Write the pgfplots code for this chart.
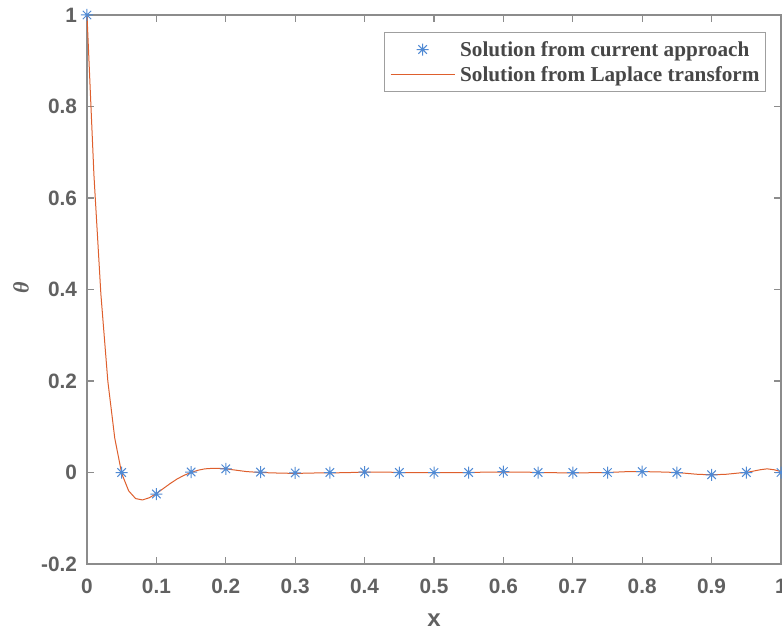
\documentclass[border=0pt]{standalone}
\usepackage{pgfplots}
\pgfplotsset{compat=1.18}
\usepackage{fontspec}
\setmainfont{Liberation Serif}
\setsansfont{Liberation Sans}

\definecolor{axgray}{gray}{0.55}
\definecolor{lblgray}{gray}{0.38}
\definecolor{mblue}{RGB}{80,138,212}
\definecolor{morange}{RGB}{222,95,45}

% eight-spoke asterisk
\pgfdeclareplotmark{star8}{%
  \pgfpathmoveto{\pgfqpoint{-\pgfplotmarksize}{0pt}}%
  \pgfpathlineto{\pgfqpoint{\pgfplotmarksize}{0pt}}%
  \pgfpathmoveto{\pgfqpoint{0pt}{-\pgfplotmarksize}}%
  \pgfpathlineto{\pgfqpoint{0pt}{\pgfplotmarksize}}%
  \pgfpathmoveto{\pgfqpoint{-0.707\pgfplotmarksize}{-0.707\pgfplotmarksize}}%
  \pgfpathlineto{\pgfqpoint{0.707\pgfplotmarksize}{0.707\pgfplotmarksize}}%
  \pgfpathmoveto{\pgfqpoint{-0.707\pgfplotmarksize}{0.707\pgfplotmarksize}}%
  \pgfpathlineto{\pgfqpoint{0.707\pgfplotmarksize}{-0.707\pgfplotmarksize}}%
  \pgfusepathqstroke}

\begin{document}
\begin{tikzpicture}
\begin{axis}[
  at={(0pt,0pt)}, anchor=south west,
  scale only axis,
  width=347pt, height=274.5pt,
  xmin=0, xmax=1, ymin=-0.2, ymax=1,
  axis line style={axgray, line width=0.8pt},
  every tick/.style={axgray, line width=0.6pt},
  tick align=inside,
  major tick length=3.3pt,
  xtick={0,0.1,0.2,0.3,0.4,0.5,0.6,0.7,0.8,0.9,1},
  xticklabels={0,0.1,0.2,0.3,0.4,0.5,0.6,0.7,0.8,0.9,1},
  ytick={-0.2,0,0.2,0.4,0.6,0.8,1},
  yticklabels={-0.2,0,0.2,0.4,0.6,0.8,1},
  tick label style={font=\sffamily\bfseries\fontsize{10.4}{12}\selectfont, text=lblgray},
  xticklabel style={yshift=-4pt},
  yticklabel style={xshift=-1.5pt},
  xlabel={x},
  ylabel={θ},
  xlabel style={font=\sffamily\bfseries\fontsize{12}{14}\selectfont, text=lblgray,
    at={(axis description cs:0.5,-0.102)}, anchor=center},
  ylabel style={font=\rmfamily\bfseries\itshape\fontsize{11}{12}\selectfont, text=lblgray,
    at={(axis description cs:-0.095,0.503)}, anchor=center},
  legend cell align=left,
  legend style={
    at={(axis description cs:0.9784,0.969)}, anchor=north east,
    draw=gray!75, line width=0.5pt,
    font=\rmfamily\bfseries\fontsize{10.6}{12.5}\selectfont, text=black!72,
    inner xsep=3pt, inner ysep=2.25pt, row sep=0pt,
    nodes={inner sep=0pt, text height=9.5pt, text depth=3pt},
    /tikz/every odd column/.style={column sep=2.5pt},
  },
  clip=false,
]
% numerical solution at the collocation points
\addplot[only marks, mark=star8, mark size=3pt, mblue, line width=0.5pt,
  legend image code/.code={\draw[mark repeat=2, mark phase=2]
    plot coordinates {(0pt,0pt) (16pt,0pt) (32pt,0pt)};}]
coordinates {
 (0,1) (0.05,0.000) (0.10,-0.047) (0.15,0.001) (0.20,0.008) (0.25,0.001)
 (0.30,-0.001) (0.35,0.000) (0.40,0.001) (0.45,0.000) (0.50,0.000)
 (0.55,0.000) (0.60,0.002) (0.65,0.000) (0.70,0.000) (0.75,0.000)
 (0.80,0.002) (0.85,0.000) (0.90,-0.005) (0.95,0.000) (1.00,0.000)
};
\addlegendentry{Solution from current approach}
% inverse Laplace transform solution
\addplot[morange, line width=0.5pt, no marks,
  legend image code/.code={\draw (0pt,0pt) -- (32pt,0pt);}]
coordinates {
 (0.00,1.000) (0.01,0.650) (0.02,0.390) (0.03,0.200) (0.04,0.075)
 (0.05,-0.002) (0.06,-0.040) (0.07,-0.057) (0.08,-0.060) (0.09,-0.055)
 (0.10,-0.046) (0.11,-0.035) (0.12,-0.024) (0.13,-0.014) (0.14,-0.006)
 (0.15,0.000) (0.16,0.005) (0.17,0.008) (0.18,0.009) (0.19,0.009)
 (0.20,0.008) (0.21,0.006) (0.22,0.004) (0.23,0.002) (0.24,0.001)
 (0.25,0.000) (0.27,-0.001) (0.30,-0.002) (0.33,-0.001) (0.35,-0.001)
 (0.38,0.000) (0.40,0.001) (0.43,0.001) (0.45,0.000) (0.50,0.000)
 (0.55,0.000) (0.58,0.001) (0.60,0.001) (0.63,0.001) (0.65,0.000)
 (0.70,-0.001) (0.75,0.000) (0.78,0.002) (0.80,0.002) (0.83,0.001)
 (0.85,0.000) (0.88,-0.004) (0.90,-0.005) (0.92,-0.004) (0.94,-0.001)
 (0.95,0.000) (0.97,0.006) (0.98,0.008) (0.99,0.006) (1.00,0.002)
};
\addlegendentry{Solution from Laplace transform}
\end{axis}
\pgfresetboundingbox
\path (-43.5pt,-34pt) rectangle (347.5pt,282pt);
\end{tikzpicture}
\end{document}
